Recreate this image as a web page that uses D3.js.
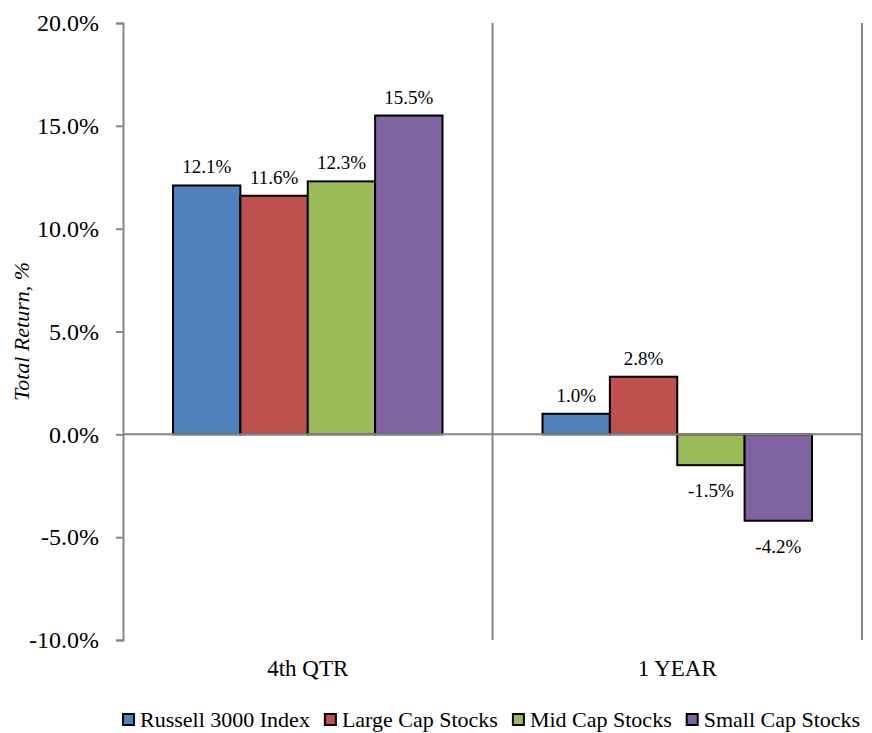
<!DOCTYPE html>
<html>
<head>
<meta charset="utf-8">
<script src="https://cdn.jsdelivr.net/npm/d3@7/dist/d3.min.js"></script>
<style>
  html, body { margin: 0; padding: 0; background: #fff; }
  svg { display: block; }
</style>
</head>
<body>
<svg id="chart" width="872" height="733"></svg>
<script>
// Categories, series and values (total return, %)
const periods = ["4th QTR", "1 YEAR"];
const seriesNames = ["Russell 3000 Index", "Large Cap Stocks", "Mid Cap Stocks", "Small Cap Stocks"];
const seriesColors = ["#4F81BD", "#C0504D", "#9BBB59", "#8064A2"];
const qtrValues = [12.1, 11.6, 12.3, 15.5];
const yearValues = [1.0, 2.8, -1.5, -4.2];
const yTicks = [-10, -5, 0, 5, 10, 15, 20];

const rows = [qtrValues, yearValues];

const fontName = "Liberation Serif";
// Apply the serif face to a text selection with a given size
function serifText(sel, size) {
  return sel
    .attr("font-family", fontName)
    .attr("font-size", size)
    .style("font-family", "'Liberation Serif', serif", "important")
    .style("font-size", size + "px", "important");
}

const svg = d3.select("#chart");
const plotLeft = 123, plotRight = 862, plotTop = 23, plotBottom = 640;
const axisColor = "#868686";

const y = d3.scaleLinear().domain([-10, 20]).range([plotBottom, plotTop]);
const x0 = d3.scaleBand().domain(periods).range([plotLeft, plotRight]).padding(0);
const x1 = d3.scaleBand().domain(seriesNames).range([50, x0.bandwidth() - 50]).padding(0);

const fmt = v => v.toFixed(1) + "%";

// Y axis with outside ticks
const yAxis = svg.append("g")
  .attr("transform", `translate(${plotLeft},0)`)
  .call(d3.axisLeft(y).tickValues(yTicks).tickSize(7).tickPadding(17).tickFormat(fmt));
yAxis.attr("font-family", fontName).attr("font-size", null);
yAxis.select(".domain").attr("stroke", axisColor).attr("stroke-width", 2);
yAxis.selectAll(".tick line").attr("stroke", axisColor).attr("stroke-width", 2);
serifText(yAxis.selectAll(".tick text"), 24).attr("fill", "#000");

// Category separators
svg.append("g").selectAll("line")
  .data(periods)
  .join("line")
  .attr("x1", d => x0(d) + x0.bandwidth())
  .attr("x2", d => x0(d) + x0.bandwidth())
  .attr("y1", plotTop)
  .attr("y2", plotBottom)
  .attr("stroke", axisColor)
  .attr("stroke-width", 2);

// Bars
const groups = svg.append("g").selectAll("g")
  .data(periods)
  .join("g")
  .attr("transform", d => `translate(${x0(d)},0)`);

groups.selectAll("rect")
  .data((d, i) => rows[i].map((v, j) => ({ name: seriesNames[j], value: v, color: seriesColors[j] })))
  .join("rect")
  .attr("x", d => x1(d.name))
  .attr("width", x1.bandwidth())
  .attr("y", d => y(Math.max(0, d.value)))
  .attr("height", d => Math.abs(y(d.value) - y(0)))
  .attr("fill", d => d.color)
  .attr("stroke", "#000")
  .attr("stroke-width", 2);

// Value labels
serifText(groups.selectAll("text.val")
  .data((d, i) => rows[i].map((v, j) => ({ name: seriesNames[j], value: v })))
  .join("text")
  .attr("class", "val")
  .attr("x", d => x1(d.name) + x1.bandwidth() / 2)
  .attr("y", d => d.value >= 0 ? y(d.value) - 12 : y(d.value) + 32)
  .attr("text-anchor", "middle"), 19)
  .text(d => fmt(d.value));

// Zero line
svg.append("line")
  .attr("x1", plotLeft).attr("x2", plotRight)
  .attr("y1", y(0)).attr("y2", y(0))
  .attr("stroke", axisColor)
  .attr("stroke-width", 2);

// Category labels
serifText(svg.append("g").selectAll("text")
  .data(periods)
  .join("text")
  .attr("x", d => x0(d) + x0.bandwidth() / 2)
  .attr("y", 676)
  .attr("text-anchor", "middle"), 23)
  .text(d => d);

// Y axis title
serifText(svg.append("text")
  .attr("transform", `translate(29,${(plotTop + plotBottom) / 2}) rotate(-90)`)
  .attr("text-anchor", "middle")
  .attr("font-style", "italic")
  .style("font-style", "italic"), 22)
  .text("Total Return, %");

// Legend
const legend = svg.append("g");
let lx = 122;
seriesNames.forEach((name, i) => {
  const item = legend.append("g").attr("transform", `translate(${lx},0)`);
  item.append("rect")
    .attr("x", 1).attr("y", 714)
    .attr("width", 11).attr("height", 11)
    .attr("fill", seriesColors[i])
    .attr("stroke", "#000")
    .attr("stroke-width", 2);
  const t = serifText(item.append("text")
    .attr("x", 18).attr("y", 727), 22)
    .text(name);
  lx += 18 + t.node().getComputedTextLength() + 14;
});
</script>
</body>
</html>
